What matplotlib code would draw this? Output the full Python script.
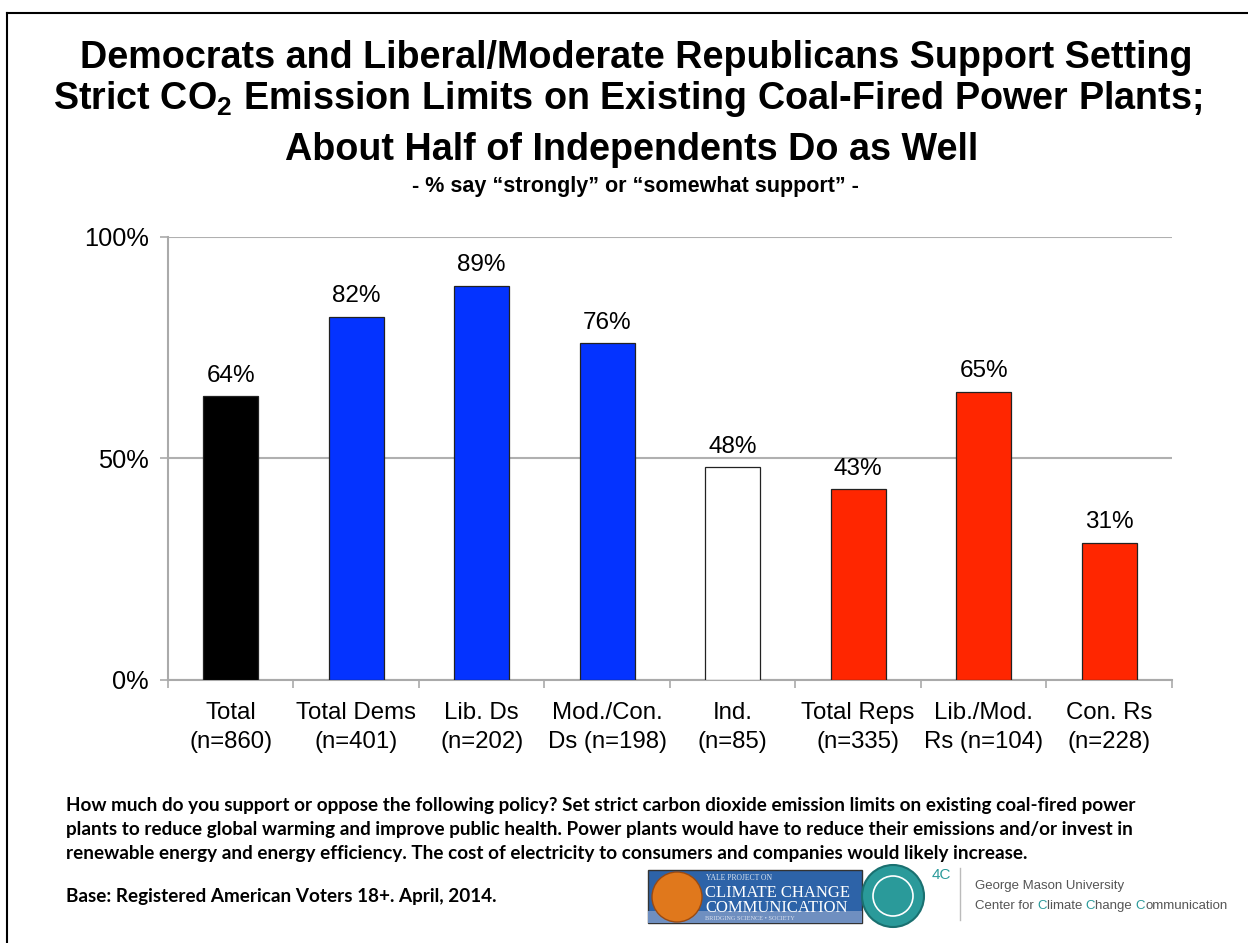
import matplotlib.pyplot as plt
from matplotlib.patches import Rectangle, Ellipse
from matplotlib.lines import Line2D

plt.rcParams["font.family"] = ["Liberation Sans", "DejaVu Sans"]
plt.rcParams["mathtext.fontset"] = "custom"
plt.rcParams["mathtext.rm"] = "Liberation Sans:bold"

categories = [
    "Total\n(n=860)",
    "Total Dems\n(n=401)",
    "Lib. Ds\n(n=202)",
    "Mod./Con.\nDs (n=198)",
    "Ind.\n(n=85)",
    "Total Reps\n(n=335)",
    "Lib./Mod.\nRs (n=104)",
    "Con. Rs\n(n=228)",
]
support = [64, 82, 89, 76, 48, 43, 65, 31]
bar_colors = ["#000000", "#0433FF", "#0433FF", "#0433FF", "#FFFFFF",
              "#FF2600", "#FF2600", "#FF2600"]
y_ticks = [0, 50, 100]
y_tick_labels = ["0%", "50%", "100%"]

question = ("How much do you support or oppose the following policy? Set strict carbon dioxide emission limits on existing coal-fired power\n"
            "plants to reduce global warming and improve public health. Power plants would have to reduce their emissions and/or invest in\n"
            "renewable energy and energy efficiency. The cost of electricity to consumers and companies would likely increase.")
base_note = "Base: Registered American Voters 18+. April, 2014."

W, H = 1248, 943
fig = plt.figure(figsize=(W / 100, H / 100), dpi=100)
ax = fig.add_axes([0.1346, 0.2789, 0.8044, 0.4698])

x = list(range(len(categories)))
bars = ax.bar(x, support, width=0.44, color=bar_colors, edgecolor="#222222",
              linewidth=0.9, zorder=3)
for b, v in zip(bars, support):
    ax.annotate(f"{v}%", (b.get_x() + b.get_width() / 2, v),
                xytext=(0, 7), textcoords="offset points",
                ha="center", va="bottom", fontsize=17.5)

ax.set_xlim(-0.5, len(categories) - 0.5)
ax.set_ylim(0, 100)
ax.set_yticks(y_ticks)
ax.set_yticklabels(y_tick_labels, fontsize=18.3)
ax.set_xticks(x)
ax.set_xticklabels(categories, fontsize=17.3, linespacing=1.42)
ax.set_xticks([i - 0.5 for i in range(len(categories) + 1)], minor=True)
ax.tick_params(axis="x", which="major", length=0, pad=16)
ax.tick_params(axis="x", which="minor", length=6, color="#aaaaaa", width=1.2)
ax.tick_params(axis="y", length=6, color="#aaaaaa", width=1.2, pad=8)
ax.grid(axis="y", color="#b0b0b0", linewidth=1.5, zorder=0)
for s in ["top", "right"]:
    ax.spines[s].set_visible(False)
for s in ["left", "bottom"]:
    ax.spines[s].set_color("#aaaaaa")
    ax.spines[s].set_linewidth(1.5)

# titles
title_kw = dict(ha="center", va="center", fontsize=27.2, fontweight="bold")
fig.text(0.51, 0.938, "Democrats and Liberal/Moderate Republicans Support Setting", **title_kw)
fig.text(0.503, 0.895, r"Strict CO$_\mathregular{2}$ Emission Limits on Existing Coal-Fired Power Plants;", **title_kw)
fig.text(0.506, 0.841, "About Half of Independents Do as Well", **title_kw)
fig.text(0.509, 0.802, "- % say \u201cstrongly\u201d or \u201csomewhat support\u201d -",
         ha="center", va="center", fontsize=15.5, fontweight="bold")

# footnotes
foot_font = ["Lato", "DejaVu Sans"]
fig.text(0.053, 0.155, question, ha="left", va="top", fontsize=13.6,
         fontweight="bold", family=foot_font, linespacing=1.5)
fig.text(0.053, 0.049, base_note, ha="left", va="center", fontsize=13.6,
         fontweight="bold", family=foot_font)

# slide frame (left and top edges)
fig.add_artist(Line2D([0.006, 0.006], [0.0, 0.986], color="black", lw=1.5))
fig.add_artist(Line2D([0.006, 1.0], [0.986, 0.986], color="black", lw=1.5))

# Yale logo
fig.add_artist(Rectangle((648 / W, 1 - 923 / H), 214 / W, 53 / H,
                         facecolor="#2d63a8", edgecolor="#333333", lw=1))
fig.add_artist(Rectangle((648 / W, 1 - 923 / H), 214 / W, 12 / H,
                         facecolor="#6f8fc0", edgecolor="none"))
fig.add_artist(Ellipse((677 / W, 1 - 897 / H), 50 / W, 50 / H,
                       facecolor="#e0781c", edgecolor="#9a4a12", lw=1))
fig.text(706 / W, 1 - 878 / H, "YALE PROJECT ON", fontsize=5.5, color="#dde6f0",
         family="Liberation Serif", va="center")
fig.text(705 / W, 1 - 893 / H, "CLIMATE CHANGE", fontsize=12, color="white",
         family="Liberation Serif", va="center")
fig.text(705 / W, 1 - 908 / H, "COMMUNICATION", fontsize=12, color="white",
         family="Liberation Serif", va="center")
fig.text(705 / W, 1 - 918 / H, "BRIDGING SCIENCE \u2022 SOCIETY", fontsize=4.5,
         color="#d8e0ee", family="Liberation Serif", va="center")

# 4C logo
teal = "#2a9a9a"
fig.add_artist(Ellipse((893 / W, 1 - 896 / H), 62 / W, 62 / H,
                       facecolor=teal, edgecolor="#1a7070", lw=1.5))
fig.add_artist(Ellipse((893 / W, 1 - 896 / H), 40 / W, 40 / H,
                       facecolor="none", edgecolor="white", lw=1.2))
fig.text(932 / W, 1 - 875 / H, "4C", fontsize=11, color=teal, va="center")
fig.add_artist(Line2D([960 / W, 960 / W], [1 - 920 / H, 1 - 868 / H],
                      color="#bbbbbb", lw=1))
fig.text(975 / W, 1 - 886 / H, "George Mason University", fontsize=9.5,
         color="#555555", va="center")

# second line with teal initial letters
renderer = fig.canvas.get_renderer()
parts = [("Center for ", "#555555"), ("C", teal), ("limate ", "#555555"),
         ("C", teal), ("hange ", "#555555"), ("C", teal),
         ("ommunication", "#555555")]
xpos = 975 / W
for txt, col in parts:
    t = fig.text(xpos, 1 - 906 / H, txt, fontsize=9.5, color=col, va="center")
    bb = t.get_window_extent(renderer=renderer)
    xpos += bb.width / W

fig.savefig("out.png", dpi=100)
